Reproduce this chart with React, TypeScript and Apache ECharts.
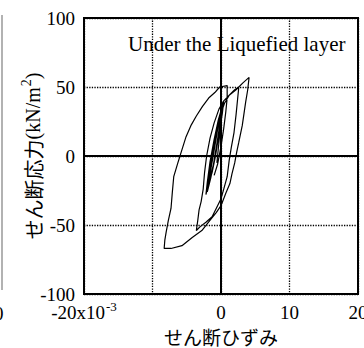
import React, { useEffect, useRef } from "react";
import * as echarts from "echarts";

const xTicks = [-20, -10, 0, 10, 20];
const yTicks = [-100, -50, 0, 50, 100];
const titleText = "Under the Liquefied layer";

// strain (x10^-3), shear stress (kN/m2)
const smallCycles: number[][] = [
  [-0.6, -5], [-0.3, 10], [0.0, 24], [0.3, 36],
  [0.1, 28], [-0.4, 12], [-1.0, -4], [-1.5, -16], [-2.0, -26],
  [-1.8, -16], [-1.4, -3], [-0.8, 14], [-0.2, 28], [0.2, 38],
  [0.0, 29], [-0.5, 12], [-1.1, -6], [-1.7, -18], [-2.2, -28],
  [-2.0, -19], [-1.6, -4], [-1.0, 12], [-0.4, 26], [0.4, 40],
  [0.2, 31], [-0.3, 16], [-0.8, 0], [-1.3, -12], [-1.8, -20],
  [-1.5, -10], [-1.0, 4], [-0.5, 19], [0.0, 31], [0.5, 38],
];
const toPeak1: number[][] = [[1.2, 44], [2.0, 48], [2.6, 50]];
const downToTrough1: number[][] = [
  [2.4, 40], [2.2, 30], [1.9, 17], [1.5, 6], [1.2, -3], [0.9, -15], [0.4, -24],
  [0.0, -31], [-0.7, -38], [-1.3, -44], [-2.2, -48], [-3.0, -51], [-3.6, -54],
];
const upToPeak2: number[][] = [
  [-3.4, -47], [-3.2, -39], [-2.9, -33], [-2.6, -24], [-2.4, -12], [-2.1, 0],
  [-1.6, 13], [-1.0, 24], [-0.3, 34], [0.4, 40], [1.2, 44], [2.2, 48], [3.2, 53], [4.1, 57],
];
const downToTrough2: number[][] = [
  [3.9, 48], [3.6, 39], [3.1, 22], [2.6, 10], [2.3, 3], [2.0, -5], [1.6, -13],
  [1.3, -20], [0.7, -27], [0.0, -36], [-0.7, -41], [-1.5, -46], [-2.8, -54],
  [-4.2, -59], [-5.7, -65], [-7.3, -67], [-8.3, -67],
];
const upToPeak3: number[][] = [
  [-8.2, -61], [-8.0, -55], [-7.7, -47], [-7.3, -38], [-7.1, -26], [-6.9, -15],
  [-6.3, -5], [-5.8, 3], [-5.1, 14], [-4.4, 22], [-3.6, 29], [-2.7, 36],
  [-1.8, 42], [-0.9, 46], [-0.2, 50], [0.9, 51],
];
const finalDrop: number[][] = [
  [0.9, 42], [0.7, 32], [0.4, 20], [0.0, 7], [-0.5, -6], [-1.0, -14],
];

const SERIF = "Liberation Serif";
const CJK = "Noto Sans CJK JP";

export default function App() {
  const ref = useRef<HTMLDivElement>(null);
  useEffect(() => {
    document.body.style.margin = "0";
    const chart = echarts.init(ref.current!, null, { renderer: "svg" });
    const path = [
      ...smallCycles,
      ...toPeak1,
      ...downToTrough1,
      ...upToPeak2,
      ...downToTrough2,
      ...upToPeak3,
      ...finalDrop,
    ];
    const dotted = { show: true, lineStyle: { color: "#000", width: 1.3, type: "dotted" as const } };
    chart.setOption({
      animation: false,
      backgroundColor: "#fff",
      textStyle: { fontFamily: SERIF },
      title: {
        text: titleText,
        left: 123,
        top: 28,
        textStyle: { fontFamily: SERIF, fontSize: 21, fontWeight: "normal", color: "#000" },
      },
      grid: {
        left: 84,
        right: 6,
        top: 18,
        bottom: 54,
        containLabel: false,
        outerBoundsMode: "none",
        show: true,
        borderColor: "#000",
        borderWidth: 2,
        backgroundColor: "transparent",
        z: 0,
      },
      xAxis: {
        type: "value",
        min: xTicks[0],
        max: xTicks[xTicks.length - 1],
        interval: 10,
        axisLine: { show: false },
        axisTick: { show: false },
        splitLine: dotted,
        axisLabel: {
          margin: 9,
          color: "#000",
          fontFamily: SERIF,
          fontSize: 19,
          lineHeight: 19,
          showMaxLabel: true,
          showMinLabel: true,
          hideOverlap: false,
          formatter: (v: number) => (v === -20 ? "{m|-20x10}{sup|-3}" : v === -10 ? "" : "{m|" + v + "}"),
          rich: {
            m: { fontFamily: SERIF, fontSize: 19, lineHeight: 19, color: "#000" },
            sup: { fontFamily: SERIF, fontSize: 13, color: "#000", padding: [0, 0, 12, 1] },
          },
        },
        name: "せん断ひずみ",
        nameLocation: "middle",
        nameGap: 33,
        nameMoveOverlap: false,
        nameTextStyle: { fontFamily: CJK, fontSize: 19, color: "#000", lineHeight: 19 },
      },
      yAxis: {
        type: "value",
        min: yTicks[0],
        max: yTicks[yTicks.length - 1],
        interval: 50,
        axisLine: { show: false },
        axisTick: { show: false },
        splitLine: dotted,
        axisLabel: {
          margin: 9,
          color: "#000",
          fontFamily: SERIF,
          fontSize: 19,
          formatter: (v: number) => "{m|" + v + "}",
          rich: { m: { fontFamily: SERIF, fontSize: 19, color: "#000" } },
        },
        name: "{a|せん断応力}{b|(kN/m}{sup|2}{b|)}",
        nameLocation: "middle",
        nameGap: 37,
        nameMoveOverlap: false,
        nameTextStyle: {
          color: "#000",
          rich: {
            a: { fontFamily: CJK, fontSize: 20, color: "#000" },
            b: { fontFamily: SERIF, fontSize: 20, color: "#000" },
            sup: { fontFamily: SERIF, fontSize: 14, color: "#000", padding: [0, 0, 14, 1] },
          },
        },
      },
      graphic: [
        { type: "line", shape: { x1: 2, y1: 15, x2: 2, y2: 290 }, style: { stroke: "#999", lineWidth: 1.5 } },
        { type: "text", x: -6, y: 304, style: { text: "0", fontFamily: SERIF, fontSize: 19, fill: "#000" } },
      ],
      series: [
        {
          type: "line",
          data: path,
          showSymbol: false,
          z: 3,
          lineStyle: { color: "#000", width: 1.2 },
          markLine: {
            silent: true,
            symbol: ["none", "none"],
            label: { show: false },
            lineStyle: { color: "#000", width: 2, type: "solid" },
            data: [{ xAxis: 0 }, { yAxis: 0 }],
          },
        },
      ],
    });
    return () => chart.dispose();
  }, []);
  return <div ref={ref} style={{ width: 364, height: 348 }} />;
}
